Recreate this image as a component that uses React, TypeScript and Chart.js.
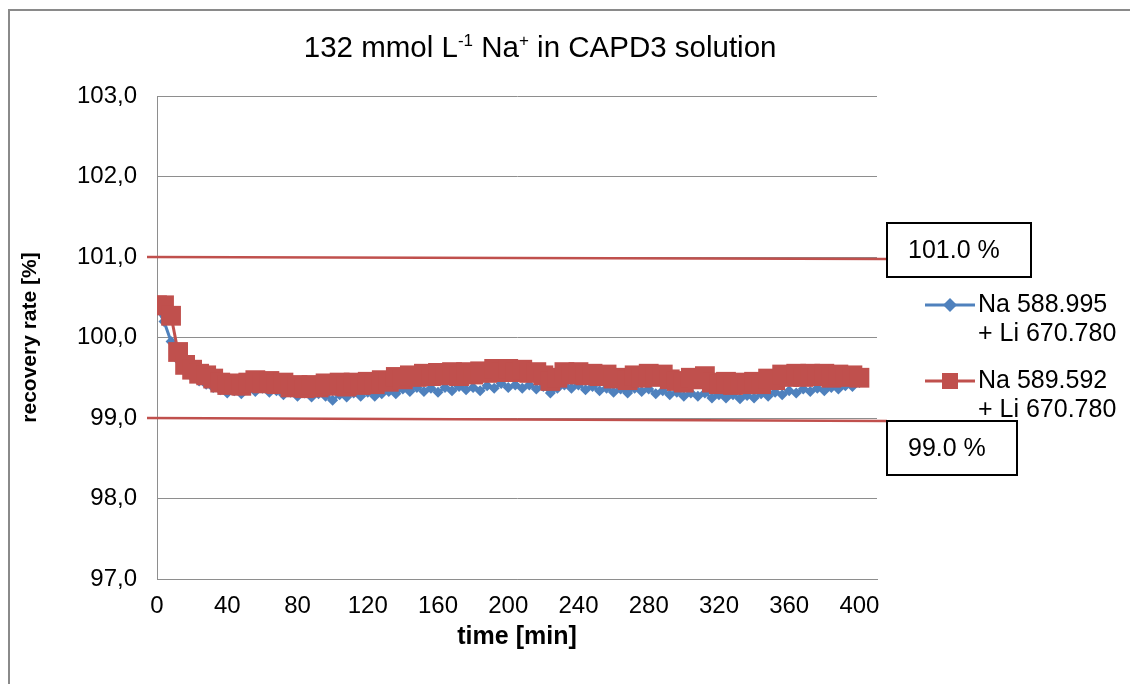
import React, { useEffect, useRef } from "react";
import { Chart, registerables } from "chart.js";

Chart.register(...registerables);

const FONT = "'Liberation Sans', Arial, sans-serif";
const BLUE = "#4f81bd";
const RED = "#c0504d";
const GRID = "#8e8e8e";

const TITLE_PARTS: [string, boolean][] = [
  ["132 mmol L", false],
  ["-1", true],
  [" Na", false],
  ["+", true],
  [" in CAPD3 solution", false],
];
const X_TITLE = "time [min]";
const Y_TITLE = "recovery rate [%]";

const TIMES = [
  0, 4, 8, 12, 16, 20, 24, 28, 32, 36,
  40, 44, 48, 52, 56, 60, 64, 68, 72, 76,
  80, 84, 88, 92, 96, 100, 104, 108, 112, 116,
  120, 124, 128, 132, 136, 140, 144, 148, 152, 156,
  160, 164, 168, 172, 176, 180, 184, 188, 192, 196,
  200, 204, 208, 212, 216, 220, 224, 228, 232, 236,
  240, 244, 248, 252, 256, 260, 264, 268, 272, 276,
  280, 284, 288, 292, 296, 300, 304, 308, 312, 316,
  320, 324, 328, 332, 336, 340, 344, 348, 352, 356,
  360, 364, 368, 372, 376, 380, 384, 388, 392, 396,
  400,
];

const NA_588_995 = [
  100.36, 100.2, 99.95, 99.72, 99.58, 99.51, 99.46, 99.42, 99.38, 99.35,
  99.31, 99.34, 99.3, 99.36, 99.33, 99.37, 99.32, 99.34, 99.29, 99.32,
  99.27, 99.31, 99.26, 99.3, 99.27, 99.22, 99.29, 99.26, 99.31, 99.27,
  99.32, 99.27, 99.3, 99.33, 99.3, 99.36, 99.33, 99.38, 99.33, 99.37,
  99.32, 99.38, 99.34, 99.39, 99.35, 99.38, 99.34, 99.4, 99.37, 99.43,
  99.38, 99.41, 99.37, 99.41, 99.36, 99.39, 99.31, 99.37, 99.41, 99.37,
  99.41, 99.35, 99.39, 99.34, 99.37, 99.32, 99.36, 99.31, 99.37, 99.33,
  99.36, 99.3, 99.34, 99.29, 99.32, 99.27, 99.31, 99.27, 99.31, 99.25,
  99.29, 99.25, 99.29, 99.24, 99.28, 99.25, 99.3, 99.27, 99.32, 99.29,
  99.34, 99.31, 99.36, 99.33, 99.37, 99.34, 99.38, 99.36, 99.4, 99.39,
  99.44,
];

const NA_589_592 = [
  100.4, 100.4, 100.27, 99.82, 99.66, 99.6, 99.55, 99.53, 99.49, 99.44,
  99.41, 99.43, 99.4, 99.44, 99.47, 99.43, 99.46, 99.42, 99.44, 99.38,
  99.41, 99.37, 99.41, 99.38, 99.43, 99.4, 99.44, 99.39, 99.44, 99.41,
  99.45, 99.42, 99.47, 99.45, 99.51, 99.48, 99.53, 99.51, 99.55, 99.52,
  99.56, 99.53, 99.57, 99.52, 99.57, 99.54, 99.58, 99.56, 99.61, 99.57,
  99.61, 99.57, 99.6, 99.56, 99.57, 99.53, 99.46, 99.5, 99.57, 99.54,
  99.57, 99.53, 99.55, 99.52, 99.54, 99.49, 99.5, 99.47, 99.53, 99.5,
  99.55, 99.51, 99.54, 99.48, 99.46, 99.44, 99.5, 99.48, 99.52, 99.44,
  99.42, 99.45, 99.41, 99.44, 99.42, 99.45, 99.42, 99.49, 99.47, 99.54,
  99.51, 99.55, 99.51, 99.55, 99.52, 99.55, 99.5, 99.54, 99.51, 99.53,
  99.5,
];

const X_MAX = 410;
const X_STEP = 40;
const SERIES_LABELS = [
  ["Na 588.995", "+ Li 670.780"],
  ["Na 589.592", "+ Li 670.780"],
];
const LIMIT_VALUES = [101.0, 99.0];
const LIMIT_LABELS = ["101.0 %", "99.0 %"];

const framePlugin = {
  id: "frame",
  beforeDraw(chart: any) {
    const { ctx, width, height } = chart;
    ctx.save();
    ctx.fillStyle = "#ffffff";
    ctx.fillRect(0, 0, width, height);
    ctx.strokeStyle = "#8a8a8a";
    ctx.lineWidth = 2;
    ctx.beginPath();
    ctx.moveTo(9, height);
    ctx.lineTo(9, 10);
    ctx.lineTo(width, 10);
    ctx.stroke();
    ctx.restore();
  },
};

const titlePlugin = {
  id: "supTitle",
  afterDraw(chart: any) {
    const { ctx, width } = chart;
    const size = 29.5;
    const supSize = 17;
    ctx.save();
    ctx.fillStyle = "#000";
    ctx.textBaseline = "alphabetic";
    ctx.textAlign = "left";
    let total = 0;
    for (const [t, sup] of TITLE_PARTS) {
      ctx.font = `${sup ? supSize : size}px ${FONT}`;
      total += ctx.measureText(t).width;
    }
    let x = width * 0.478 - total / 2;
    const base = 57;
    for (const [t, sup] of TITLE_PARTS) {
      ctx.font = `${sup ? supSize : size}px ${FONT}`;
      ctx.fillText(t, x, sup ? base - 11 : base);
      x += ctx.measureText(t).width;
    }
    ctx.restore();
  },
};

const limitsPlugin = {
  id: "limits",
  beforeDatasetsDraw(chart: any) {
    const { ctx, chartArea, scales } = chart;
    const y = scales.y;
    const x0 = chartArea.left - 10;
    const x1 = chartArea.right + 10;
    ctx.save();
    ctx.strokeStyle = RED;
    ctx.lineWidth = 2.5;
    LIMIT_VALUES.forEach((v, i) => {
      const py = y.getPixelForValue(v);
      ctx.beginPath();
      ctx.moveTo(x0, py);
      ctx.lineTo(x1, py + (i === 0 ? 2 : 3));
      ctx.stroke();
    });
    ctx.restore();
  },
  afterDraw(chart: any) {
    const { ctx, chartArea, scales } = chart;
    const y = scales.y;
    const bx = chartArea.right + 10;
    ctx.save();
    ctx.font = `25px ${FONT}`;
    ctx.textBaseline = "middle";
    ctx.textAlign = "left";
    LIMIT_VALUES.forEach((v, i) => {
      const py = y.getPixelForValue(v);
      const top = i === 0 ? py - 34 : py + 3;
      const w = i === 0 ? 144 : 130;
      const h = 54;
      ctx.fillStyle = "#fff";
      ctx.fillRect(bx, top, w, h);
      ctx.strokeStyle = "#000";
      ctx.lineWidth = 2;
      ctx.strokeRect(bx, top, w, h);
      ctx.fillStyle = "#000";
      ctx.fillText(LIMIT_LABELS[i], bx + 21, top + h / 2 + 1);
    });
    ctx.restore();
  },
};

const legendPlugin = {
  id: "customLegend",
  afterDraw(chart: any) {
    const { ctx, chartArea } = chart;
    const x0 = chartArea.right + 48;
    const rows = [305, 381];
    ctx.save();
    chart.data.datasets.forEach((ds: any, i: number) => {
      const yy = rows[i];
      ctx.strokeStyle = ds.borderColor;
      ctx.lineWidth = 3;
      ctx.beginPath();
      ctx.moveTo(x0, yy);
      ctx.lineTo(x0 + 50, yy);
      ctx.stroke();
      ctx.fillStyle = ds.backgroundColor;
      const cx = x0 + 25;
      if (ds.pointStyle === "rect") {
        ctx.fillRect(cx - 8, yy - 8, 16, 16);
      } else {
        ctx.beginPath();
        ctx.moveTo(cx, yy - 7);
        ctx.lineTo(cx + 7, yy);
        ctx.lineTo(cx, yy + 7);
        ctx.lineTo(cx - 7, yy);
        ctx.closePath();
        ctx.fill();
      }
      ctx.fillStyle = "#000";
      ctx.font = `25px ${FONT}`;
      ctx.textBaseline = "middle";
      ctx.textAlign = "left";
      SERIES_LABELS[i].forEach((line, j) => {
        ctx.fillText(line, x0 + 53, yy + j * 29);
      });
    });
    ctx.restore();
  },
};

export default function App() {
  const ref = useRef<HTMLCanvasElement>(null);
  useEffect(() => {
    document.body.style.margin = "0";
    const canvas = ref.current!;
    const tickFont = { family: FONT, size: 24 };
    const chart = new Chart(canvas, {
      type: "line",
      data: {
        datasets: [
          {
            label: SERIES_LABELS[0].join(" "),
            data: TIMES.map((t, i) => ({ x: t, y: NA_588_995[i] })),
            borderColor: BLUE,
            backgroundColor: BLUE,
            borderWidth: 3,
            pointStyle: "rectRot",
            pointRadius: 5.5,
            pointBorderWidth: 0,
            tension: 0,
            order: 2,
          },
          {
            label: SERIES_LABELS[1].join(" "),
            data: TIMES.map((t, i) => ({ x: t, y: NA_589_592[i] })),
            borderColor: RED,
            backgroundColor: RED,
            borderWidth: 3,
            pointStyle: "rect",
            pointRadius: 14,
            pointBorderWidth: 0,
            tension: 0,
            order: 1,
          },
        ] as any,
      },
      options: {
        animation: false,
        responsive: false,
        devicePixelRatio: 1,
        layout: { padding: { left: 0, right: 253, top: 96, bottom: 0 } },
        plugins: {
          legend: { display: false },
          title: { display: false },
          tooltip: { enabled: false },
        },
        scales: {
          x: {
            type: "linear",
            min: 0,
            max: X_MAX,
            ticks: {
              stepSize: X_STEP,
              includeBounds: false,
              font: tickFont,
              color: "#000",
              padding: 13,
              maxRotation: 0,
            },
            grid: { display: false, drawTicks: false },
            border: { color: GRID, width: 1 },
            title: {
              display: true,
              text: X_TITLE,
              color: "#000",
              font: { family: FONT, size: 25, weight: "bold" },
              padding: { top: 0, bottom: 32 },
            },
            afterFit: (s: any) => {
              s.height = 105;
            },
          },
          y: {
            min: 97,
            max: 103,
            ticks: {
              stepSize: 1,
              font: tickFont,
              color: "#000",
              padding: 20,
              callback: (v: any) => Number(v).toFixed(1).replace(".", ","),
            },
            grid: { color: GRID, drawTicks: false, lineWidth: 1 },
            border: { color: GRID, width: 1 },
            title: {
              display: true,
              text: Y_TITLE,
              color: "#000",
              font: { family: FONT, size: 21, weight: "bold" },
              padding: { top: 18, bottom: 0 },
            },
            afterFit: (s: any) => {
              s.width = 157;
            },
          },
        },
      } as any,
      plugins: [framePlugin, titlePlugin, limitsPlugin, legendPlugin],
    });
    return () => chart.destroy();
  }, []);
  return <canvas ref={ref} width={1130} height={684} style={{ display: "block" }} />;
}
